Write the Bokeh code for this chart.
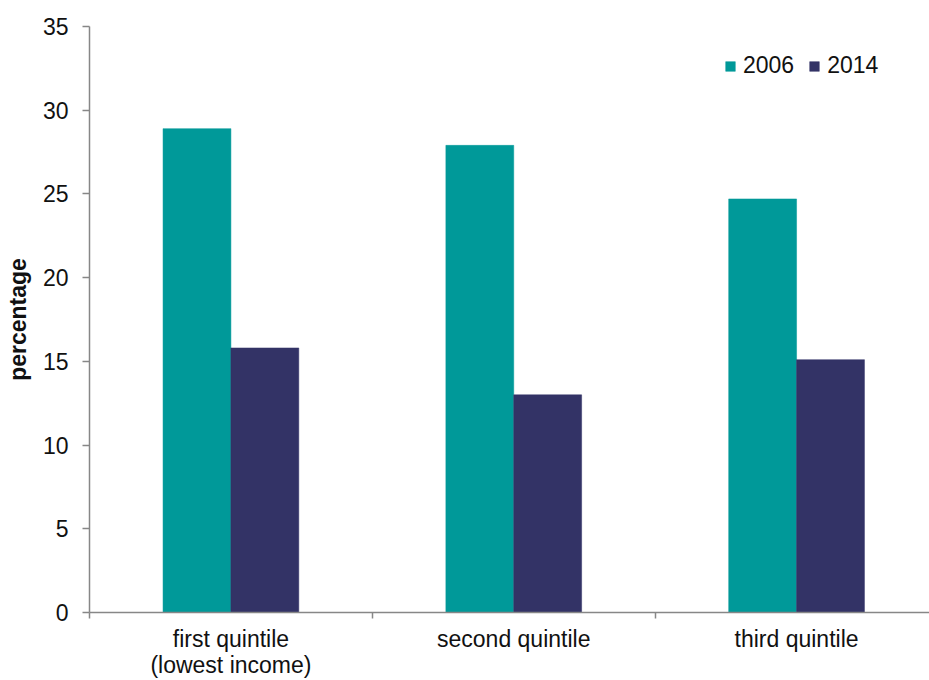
from bokeh.plotting import figure
from bokeh.models import Range1d, FixedTicker, Legend, LegendItem, ColumnDataSource
from bokeh.transform import dodge
from bokeh.embed import file_html
from bokeh.resources import INLINE

# Share of households (%) by income quintile, 2006 vs 2014
categories = ["first quintile\n(lowest income)", "second quintile", "third quintile"]
years = ["2006", "2014"]
values_2006 = [28.9, 27.9, 24.7]
values_2014 = [15.8, 13.0, 15.1]
y_ticks = [0, 5, 10, 15, 20, 25, 30, 35]

colors = {"2006": "#009999", "2014": "#333366"}
FONT = "Liberation Sans"
FONT_SIZE = "23px"
TEXT_COLOR = "#111111"
AXIS_GREY = "#878787"

# each category occupies one unit on the x scale, centred at i + 0.5
centers = [i + 0.5 for i in range(len(categories))]
boundaries = list(range(len(categories) + 1))
bar_w = 0.24

source = ColumnDataSource(dict(x=centers, v2006=values_2006, v2014=values_2014))

p = figure(
    width=929, height=680,
    x_range=Range1d(0, 2.97), y_range=Range1d(0, 35),
    output_backend="svg", toolbar_location=None,
    min_border_left=89, min_border_right=0,
    min_border_top=26, min_border_bottom=68,
)
p.outline_line_color = None
p.grid.visible = False
p.background_fill_color = "white"
p.border_fill_color = "white"

r06 = p.vbar(x=dodge("x", -bar_w / 2), top="v2006", width=bar_w, source=source,
             fill_color=colors["2006"], line_color=colors["2006"], line_width=0.5)
r14 = p.vbar(x=dodge("x", bar_w / 2), top="v2014", width=bar_w, source=source,
             fill_color=colors["2014"], line_color=colors["2014"], line_width=0.5)

# x axis: category names at the centres, small ticks at category boundaries
xa = p.xaxis[0]
xa.ticker = FixedTicker(ticks=centers, minor_ticks=boundaries)
xa.major_label_overrides = {c: lab for c, lab in zip(centers, categories)}
xa.major_tick_line_color = None
xa.major_tick_in = 0
xa.major_tick_out = 0
xa.minor_tick_in = 0
xa.minor_tick_out = 6
xa.minor_tick_line_color = AXIS_GREY
xa.minor_tick_line_width = 1.5
xa.axis_line_color = AXIS_GREY
xa.axis_line_width = 1.5
xa.major_label_text_font = FONT
xa.major_label_text_font_size = FONT_SIZE
xa.major_label_text_color = TEXT_COLOR
xa.major_label_text_line_height = 1.0
xa.major_label_standoff = 7

# y axis
ya = p.yaxis[0]
ya.ticker = FixedTicker(ticks=y_ticks)
ya.minor_tick_line_color = None
ya.major_tick_in = 0
ya.major_tick_out = 7
ya.major_tick_line_color = AXIS_GREY
ya.major_tick_line_width = 1.5
ya.axis_line_color = AXIS_GREY
ya.axis_line_width = 1.5
ya.major_label_text_font = FONT
ya.major_label_text_font_size = FONT_SIZE
ya.major_label_text_color = TEXT_COLOR
ya.major_label_standoff = 14
ya.axis_label = "percentage"
ya.axis_label_text_font = FONT
ya.axis_label_text_font_size = FONT_SIZE
ya.axis_label_text_font_style = "bold"
ya.axis_label_text_color = TEXT_COLOR
ya.axis_label_standoff = 9

legend = Legend(
    items=[LegendItem(label=years[0], renderers=[r06]),
           LegendItem(label=years[1], renderers=[r14])],
    orientation="horizontal",
    location=(635, 533),
    margin=0, padding=0,
    spacing=14, label_standoff=7,
    glyph_width=12, glyph_height=12,
    border_line_color=None, background_fill_alpha=0,
    label_text_font=FONT, label_text_font_size=FONT_SIZE, label_text_color=TEXT_COLOR,
)
p.add_layout(legend)

open("out.html", "w").write(file_html(p, INLINE))
